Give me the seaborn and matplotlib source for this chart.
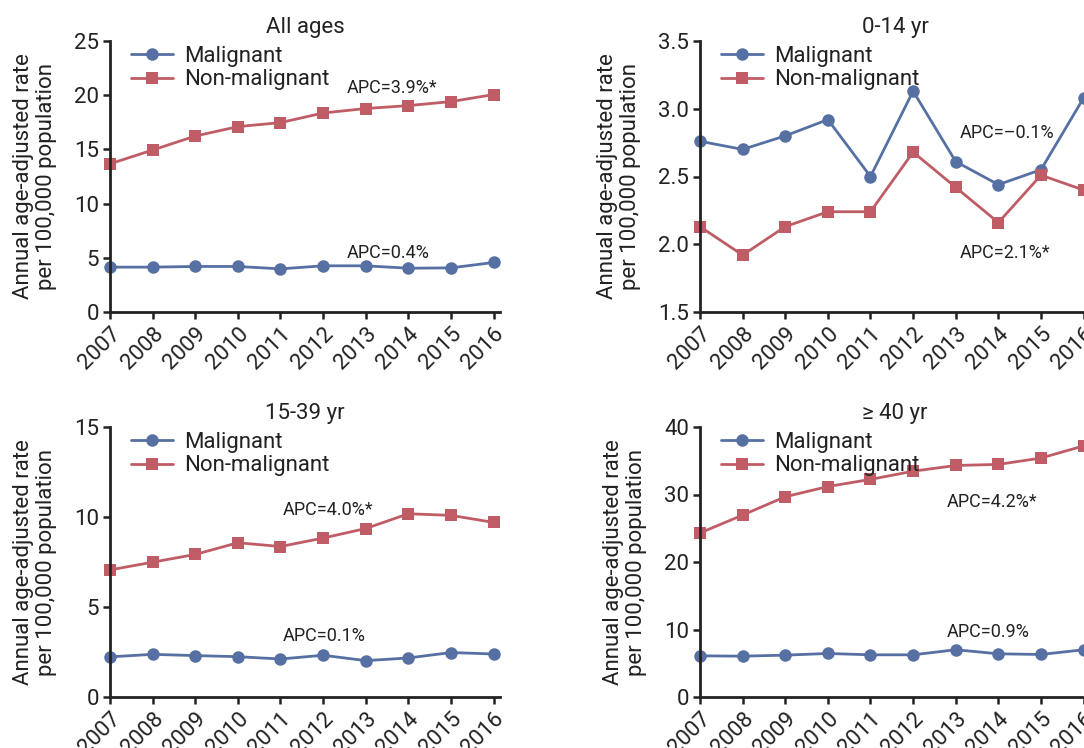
import matplotlib
matplotlib.use("Agg")
import matplotlib.pyplot as plt
import seaborn as sns
import pandas as pd
from matplotlib import font_manager

years = [2007, 2008, 2009, 2010, 2011, 2012, 2013, 2014, 2015, 2016]

all_mal = [4.14, 4.14, 4.2, 4.2, 3.98, 4.26, 4.26, 4.04, 4.07, 4.57]
all_non = [13.67, 14.94, 16.23, 17.1, 17.47, 18.36, 18.77, 19.04, 19.41, 20.06]

c014_mal = [2.76, 2.70, 2.80, 2.92, 2.50, 3.13, 2.61, 2.44, 2.55, 3.08]
c014_non = [2.13, 1.92, 2.13, 2.24, 2.24, 2.68, 2.42, 2.16, 2.51, 2.40]

c1539_mal = [2.23, 2.37, 2.30, 2.24, 2.11, 2.32, 2.02, 2.17, 2.47, 2.39]
c1539_non = [7.06, 7.49, 7.92, 8.57, 8.36, 8.83, 9.36, 10.18, 10.09, 9.70]

c40_mal = [6.1, 6.05, 6.2, 6.45, 6.25, 6.25, 7.0, 6.4, 6.3, 7.0]
c40_non = [24.3, 26.95, 29.67, 31.18, 32.24, 33.45, 34.3, 34.46, 35.4, 37.2]

titles = ["All ages", "0-14 yr", "15-39 yr", "\u2265 40 yr"]
series_names = ["Malignant", "Non-malignant"]
apc_mal = ["APC=0.4%", "APC=\u20130.1%", "APC=0.1%", "APC=0.9%"]
apc_non = ["APC=3.9%*", "APC=2.1%*", "APC=4.0%*", "APC=4.2%*"]
apc_x = [2012.55, 2013.1, 2011.05, 2012.8]
apc_mal_y = [5.45, 2.82, 3.39, 9.6]
apc_non_y = [20.7, 1.935, 10.39, 28.9]
ylims = [(0, 25), (1.5, 3.5), (0, 15), (0, 40)]
yticks = [[0, 5, 10, 15, 20, 25], [1.5, 2.0, 2.5, 3.0, 3.5], [0, 5, 10, 15], [0, 10, 20, 30, 40]]
ytick_labels = [["0", "5", "10", "15", "20", "25"], ["1.5", "2.0", "2.5", "3.0", "3.5"],
                ["0", "5", "10", "15"], ["0", "10", "20", "30", "40"]]

panels = [(all_mal, all_non), (c014_mal, c014_non), (c1539_mal, c1539_non), (c40_mal, c40_non)]

sns.set_theme(style="ticks")
names = {f.name for f in font_manager.fontManager.ttflist}
fam = "Liberation Sans Narrow" if "Liberation Sans Narrow" in names else "Roboto"
plt.rcParams['font.family'] = [fam, 'DejaVu Sans']

BLUE = "#5670a3"
RED = "#c05c66"
palette = {"Malignant": BLUE, "Non-malignant": RED}
markers = {"Malignant": "o", "Non-malignant": "s"}

fig = plt.figure(figsize=(10.84, 7.48), dpi=100)
W, H = 1084, 748
positions = [
    (110, 41, 390, 271),
    (700, 41, 390, 271),
    (110, 427, 390, 270),
    (700, 427, 390, 270),
]

for i, (mal, non) in enumerate(panels):
    x0, ytop, w, h = positions[i]
    ax = fig.add_axes([x0 / W, 1 - (ytop + h) / H, w / W, h / H])
    df = pd.DataFrame({
        "year": years + years,
        "rate": list(mal) + list(non),
        "type": [series_names[0]] * len(years) + [series_names[1]] * len(years),
    })
    sns.lineplot(data=df, x="year", y="rate", hue="type", style="type",
                 markers=markers, dashes=False, palette=palette, ax=ax,
                 linewidth=2.0, markersize=9, markeredgewidth=0, clip_on=False)
    ax.set_xlim(2007, 2016.15)
    ax.set_ylim(*ylims[i])
    ax.set_yticks(yticks[i])
    ax.set_yticklabels(ytick_labels[i])
    ax.set_xticks(years)
    ax.set_xticklabels([str(y) for y in years], rotation=45, ha="right",
                       rotation_mode="anchor")
    ax.tick_params(axis="both", labelsize=16, width=1.8, length=5, color="#222222",
                   labelcolor="#222222", pad=3)
    for s in ["left", "bottom"]:
        ax.spines[s].set_linewidth(2.0)
        ax.spines[s].set_color("#222222")
    for s in ["top", "right"]:
        ax.spines[s].set_visible(False)
    ax.set_xlabel("")
    ax.set_ylabel("Annual age-adjusted rate\nper 100,000 population", fontsize=16,
                  color="#222222", linespacing=1.15, labelpad=12)
    ax.set_title(titles[i], fontsize=16, color="#222222", pad=6)
    ax.text(apc_x[i], apc_non_y[i], apc_non[i], fontsize=13, color="#222222", va="center")
    ax.text(apc_x[i], apc_mal_y[i], apc_mal[i], fontsize=13, color="#222222", va="center")
    leg = ax.legend(loc="upper left", frameon=False, fontsize=16, handlelength=1.9,
                    borderaxespad=0.2, labelspacing=0.1, handletextpad=0.5,
                    bbox_to_anchor=(0.02, 1.03))
    for t in leg.get_texts():
        t.set_color("#222222")

fig.savefig("out.png", dpi=100)
